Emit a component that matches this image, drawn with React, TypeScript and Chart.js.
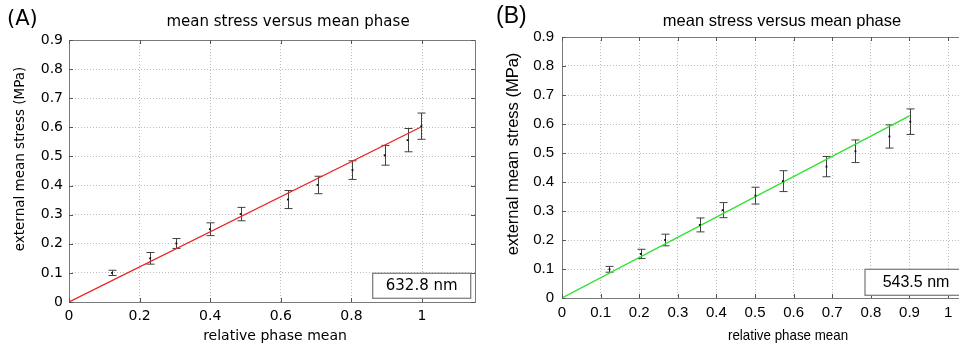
import React, { useEffect, useRef } from 'react';
import { Chart, registerables } from 'chart.js';

Chart.register(...registerables);

const DEJAVU = "'DejaVu Sans', 'Liberation Sans', Arial, sans-serif";
const LIBSANS = "'Liberation Sans', Arial, sans-serif";
const TEXT_COLOR = '#000000';

// ---- text ----
const chartTitle = 'mean stress versus mean phase';
const xAxisTitle = 'relative phase mean';
const yAxisTitle = 'external mean stress (MPa)';
const panelLabelA = '(A)';
const panelLabelB = '(B)';
const legendA = '632.8 nm';
const legendB = '543.5 nm';

// ---- panel A (632.8 nm) ----
const phaseA = [0.122, 0.230, 0.304, 0.399, 0.486, 0.620, 0.704, 0.803, 0.894, 0.959, 0.998];
const stressA = [0.100, 0.150, 0.201, 0.250, 0.302, 0.352, 0.402, 0.453, 0.504, 0.556, 0.604];
const errorA = [0.009, 0.020, 0.017, 0.022, 0.023, 0.031, 0.030, 0.032, 0.034, 0.040, 0.045];
const fitXA = [0, 1.0];
const fitYA = [0, 0.603];
const xTicksA = [0, 0.2, 0.4, 0.6, 0.8, 1];
const xTickLabelsA = ['0', '0.2', '0.4', '0.6', '0.8', '1'];

// ---- panel B (543.5 nm) ----
const phaseB = [0.123, 0.204, 0.267, 0.357, 0.416, 0.501, 0.572, 0.685, 0.760, 0.848, 0.902];
const stressB = [0.099, 0.152, 0.200, 0.252, 0.303, 0.353, 0.403, 0.453, 0.506, 0.557, 0.608];
const errorB = [0.010, 0.016, 0.020, 0.024, 0.026, 0.029, 0.036, 0.035, 0.039, 0.040, 0.044];
const fitXB = [0, 0.90];
const fitYB = [0, 0.628];
const xTicksB = [0, 0.1, 0.2, 0.3, 0.4, 0.5, 0.6, 0.7, 0.8, 0.9, 1];
const xTickLabelsB = ['0', '0.1', '0.2', '0.3', '0.4', '0.5', '0.6', '0.7', '0.8', '0.9', '1'];

// ---- shared y axis ----
const yTicks = [0, 0.1, 0.2, 0.3, 0.4, 0.5, 0.6, 0.7, 0.8, 0.9];
const yTickLabels = ['0', '0.1', '0.2', '0.3', '0.4', '0.5', '0.6', '0.7', '0.8', '0.9'];

type PanelProps = {
  left: number;
  width: number;
  xs: number[];
  ys: number[];
  errs: number[];
  fitX: number[];
  fitY: number[];
  xTicks: number[];
  xTickLabels: string[];
  xMax: number;
  lineColor: string;
  legend: string;
  label: string;
  labelX: number;
  labelY: number;
  titleX: number;
  titleY: number;
  yTitleX: number;
  yTitleY: number;
  xTitleX: number;
  xTitleY: number;
  xTitleScale: number;
  padTop: number;
  padRight: number;
  yAxisW: number;
  xAxisH: number;
  yTickPad: number;
  legendW: number;
  legendH: number;
  legendRightGap: number;
  legendBottomGap: number;
  family: string;
  tickSize: number;
  xTitleSize: number;
  yTitleSize: number;
  titleSize: number;
  legendSize: number;
  labelSize: number;
};

function makeDecor(p: PanelProps) {
  return {
    id: 'panelDecor',
    beforeDatasetsDraw(chart: any) {
      const { ctx } = chart;
      const xs = chart.scales.x;
      const ys = chart.scales.y;
      ctx.save();
      ctx.strokeStyle = '#404040';
      ctx.lineWidth = 1;
      p.xs.forEach((x, i) => {
        const px = Math.round(xs.getPixelForValue(x)) + 0.5;
        const top = ys.getPixelForValue(p.ys[i] + p.errs[i]);
        const bot = ys.getPixelForValue(p.ys[i] - p.errs[i]);
        ctx.beginPath();
        ctx.moveTo(px, top);
        ctx.lineTo(px, bot);
        ctx.moveTo(px - 4, top);
        ctx.lineTo(px + 4, top);
        ctx.moveTo(px - 4, bot);
        ctx.lineTo(px + 4, bot);
        ctx.stroke();
      });
      ctx.restore();
    },
    afterDraw(chart: any) {
      const { ctx, chartArea } = chart;
      const { left, right, top, bottom } = chartArea;
      const xs = chart.scales.x;
      const ys = chart.scales.y;
      ctx.save();
      // frame
      ctx.strokeStyle = '#7a7a7a';
      ctx.lineWidth = 1;
      ctx.strokeRect(Math.round(left) + 0.5, Math.round(top) + 0.5, Math.round(right - left), Math.round(bottom - top));
      // inner tick marks
      ctx.strokeStyle = '#555555';
      ctx.beginPath();
      p.xTicks.forEach((v) => {
        const px = Math.round(xs.getPixelForValue(v)) + 0.5;
        ctx.moveTo(px, bottom);
        ctx.lineTo(px, bottom - 4);
        ctx.moveTo(px, top);
        ctx.lineTo(px, top + 4);
      });
      yTicks.forEach((v) => {
        const py = Math.round(ys.getPixelForValue(v)) + 0.5;
        ctx.moveTo(left, py);
        ctx.lineTo(left + 4, py);
        ctx.moveTo(right, py);
        ctx.lineTo(right - 4, py);
      });
      ctx.stroke();
      // legend box
      const bx = right - p.legendRightGap - p.legendW;
      const by = bottom - p.legendBottomGap - p.legendH;
      ctx.fillStyle = '#ffffff';
      ctx.fillRect(bx, by, p.legendW, p.legendH);
      ctx.strokeStyle = '#808080';
      ctx.lineWidth = 1.3;
      ctx.strokeRect(bx, by, p.legendW, p.legendH);
      ctx.fillStyle = TEXT_COLOR;
      ctx.font = `${p.legendSize}px ${p.family}`;
      ctx.textAlign = 'center';
      ctx.textBaseline = 'middle';
      ctx.fillText(p.legend, bx + p.legendW / 2, by + p.legendH / 2 + 0.5);
      // title
      ctx.font = `${p.titleSize}px ${p.family}`;
      ctx.fillText(chartTitle, p.titleX, p.titleY);
      // x axis title
      ctx.save();
      ctx.translate(p.xTitleX, p.xTitleY);
      ctx.scale(p.xTitleScale, 1);
      ctx.font = `${p.xTitleSize}px ${p.family}`;
      ctx.fillText(xAxisTitle, 0, 0);
      ctx.restore();
      // y axis title
      ctx.save();
      ctx.translate(p.yTitleX, p.yTitleY);
      ctx.rotate(-Math.PI / 2);
      ctx.font = `${p.yTitleSize}px ${p.family}`;
      ctx.fillText(yAxisTitle, 0, 0);
      ctx.restore();
      // panel label
      ctx.font = `${p.labelSize}px ${p.family}`;
      ctx.textAlign = 'left';
      ctx.fillText(p.label, p.labelX, p.labelY);
      ctx.restore();
    },
  };
}

function Panel(p: PanelProps) {
  const ref = useRef<HTMLCanvasElement>(null);
  useEffect(() => {
    const canvas = ref.current;
    if (!canvas) return;
    const chart = new Chart(canvas, {
      type: 'scatter',
      data: {
        datasets: [
          {
            data: p.xs.map((x, i) => ({ x, y: p.ys[i] })),
            backgroundColor: '#111111',
            borderWidth: 0,
            pointRadius: 1.3,
            pointStyle: 'rect',
            order: 0,
          },
          {
            data: p.fitX.map((x, i) => ({ x, y: p.fitY[i] })),
            showLine: true,
            borderColor: p.lineColor,
            borderWidth: 1.3,
            pointRadius: 0,
            order: 1,
          },
        ],
      },
      options: {
        responsive: false,
        maintainAspectRatio: false,
        animation: false,
        layout: { padding: { top: p.padTop, right: p.padRight, left: 0, bottom: 0 } },
        plugins: {
          legend: { display: false },
          tooltip: { enabled: false },
          title: { display: false },
        },
        scales: {
          x: {
            type: 'linear',
            min: 0,
            max: p.xMax,
            afterBuildTicks: (s: any) => {
              s.ticks = p.xTicks.map((v) => ({ value: v }));
            },
            afterFit: (s: any) => {
              s.height = p.xAxisH;
            },
            ticks: {
              autoSkip: false,
              maxRotation: 0,
              padding: 6,
              color: TEXT_COLOR,
              font: { family: p.family, size: p.tickSize },
              callback: (_v: any, i: number) => p.xTickLabels[i],
            },
            grid: { color: '#bdbdbd', lineWidth: 1, drawTicks: false },
            border: { display: false, dash: [1, 2] },
            title: { display: false },
          },
          y: {
            type: 'linear',
            min: 0,
            max: 0.9,
            afterBuildTicks: (s: any) => {
              s.ticks = yTicks.map((v) => ({ value: v }));
            },
            afterFit: (s: any) => {
              s.width = p.yAxisW;
            },
            ticks: {
              autoSkip: false,
              padding: p.yTickPad,
              color: TEXT_COLOR,
              font: { family: p.family, size: p.tickSize },
              callback: (_v: any, i: number) => yTickLabels[i],
            },
            grid: { color: '#bdbdbd', lineWidth: 1, drawTicks: false },
            border: { display: false, dash: [1, 2] },
            title: { display: false },
          },
        },
      },
      plugins: [makeDecor(p)],
    } as any);
    return () => chart.destroy();
  }, []);
  return (
    <canvas
      ref={ref}
      width={p.width}
      height={346}
      style={{ position: 'absolute', left: p.left, top: 0, width: p.width, height: 346 }}
    />
  );
}

export default function App() {
  return (
    <div
      style={{
        position: 'fixed',
        left: 0,
        top: 0,
        width: 959,
        height: 346,
        overflow: 'hidden',
        background: '#ffffff',
      }}
    >
      <Panel
        left={0}
        width={480}
        xs={phaseA}
        ys={stressA}
        errs={errorA}
        fitX={fitXA}
        fitY={fitYA}
        xTicks={xTicksA}
        xTickLabels={xTickLabelsA}
        xMax={1.15}
        lineColor="#f02020"
        legend={legendA}
        label={panelLabelA}
        labelX={7}
        labelY={20}
        titleX={288}
        titleY={22}
        yTitleX={20}
        yTitleY={159}
        xTitleX={275}
        xTitleY={336}
        xTitleScale={1}
        padTop={40}
        padRight={5}
        yAxisW={69}
        xAxisH={44}
        yTickPad={6}
        legendW={98}
        legendH={25}
        legendRightGap={4.3}
        legendBottomGap={3.7}
        family={DEJAVU}
        tickSize={14}
        xTitleSize={14}
        yTitleSize={13.5}
        titleSize={15}
        legendSize={15}
        labelSize={21}
      />
      <Panel
        left={480}
        width={530}
        xs={phaseB}
        ys={stressB}
        errs={errorB}
        fitX={fitXB}
        fitY={fitYB}
        xTicks={xTicksB}
        xTickLabels={xTickLabelsB}
        xMax={1.15}
        lineColor="#2fe02f"
        legend={legendB}
        label={panelLabelB}
        labelX={16}
        labelY={17}
        titleX={302}
        titleY={21}
        yTitleX={33}
        yTitleY={154}
        xTitleX={308}
        xTitleY={336}
        xTitleScale={0.92}
        padTop={37}
        padRight={4}
        yAxisW={82}
        xAxisH={48}
        yTickPad={8}
        legendW={102}
        legendH={26}
        legendRightGap={39}
        legendBottomGap={2.7}
        family={LIBSANS}
        tickSize={15}
        xTitleSize={14.5}
        yTitleSize={16.5}
        titleSize={16.5}
        legendSize={16}
        labelSize={23}
      />
    </div>
  );
}
